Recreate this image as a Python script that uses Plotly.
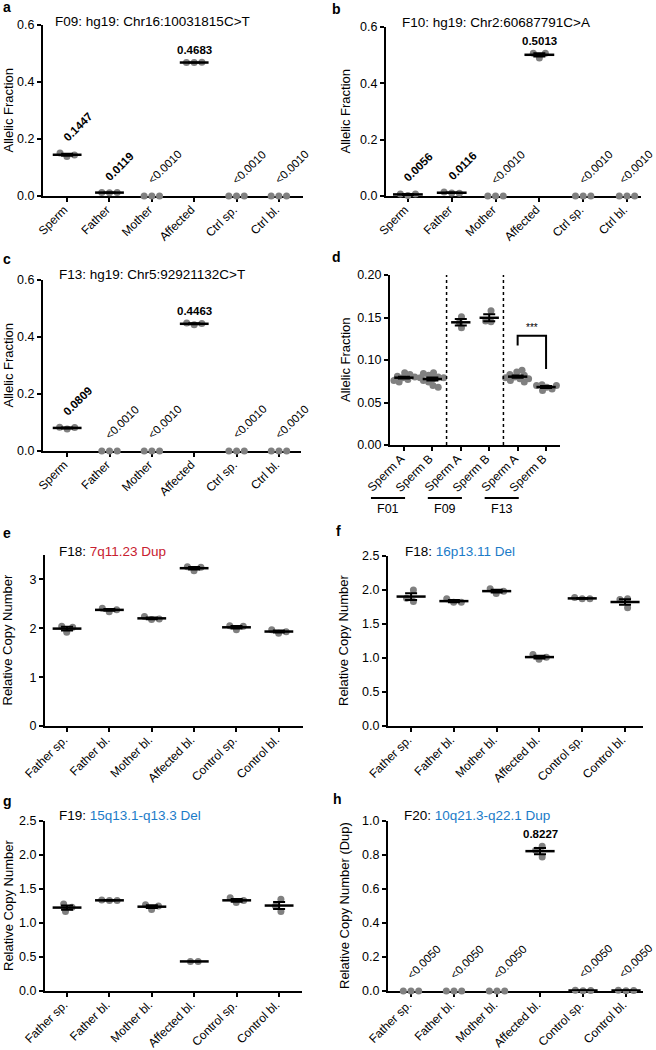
import numpy as np
import plotly.graph_objects as go

W, H = 656, 1050
FONT = "Liberation Sans, Arial, Helvetica, sans-serif"
GRAY = "rgb(128,128,128)"
RED = "#c8202f"
BLUE = "#1b7bc8"

# ---------------- data ----------------
cats_af = ["Sperm", "Father", "Mother", "Affected", "Ctrl sp.", "Ctrl bl."]
cats_cn = ["Father sp.", "Father bl.", "Mother bl.", "Affected bl.", "Control sp.", "Control bl."]
cats_d = ["Sperm A", "Sperm B", "Sperm A", "Sperm B", "Sperm A", "Sperm B"]
groups_d = ["F01", "F09", "F13"]

a_vals = [[0.139, 0.151, 0.144], [0.011, 0.012, 0.0127], [0, 0, 0],
          [0.468, 0.468, 0.4689], [0, 0, 0], [0, 0, 0]]
a_labels = ["0.1447", "0.0119", "<0.0010", "0.4683", "<0.0010", "<0.0010"]

b_vals = [[0.0020, 0.0075, 0.0073], [0.0108, 0.0140, 0.0100], [0, 0, 0],
          [0.490, 0.507, 0.507], [0, 0, 0], [0, 0, 0]]
b_labels = ["0.0056", "0.0116", "<0.0010", "0.5013", "<0.0010", "<0.0010"]

c_vals = [[0.077, 0.083, 0.0827], [0, 0, 0], [0, 0, 0],
          [0.443, 0.449, 0.447], [0, 0, 0], [0, 0, 0]]
c_labels = ["0.0809", "<0.0010", "<0.0010", "0.4463", "<0.0010", "<0.0010"]

d_vals = [
    [0.079, 0.081, 0.077, 0.083, 0.076, 0.080, 0.085, 0.074, 0.078, 0.079],
    [0.078, 0.082, 0.074, 0.085, 0.070, 0.080, 0.076, 0.084, 0.068, 0.079],
    [0.151, 0.138, 0.144],
    [0.158, 0.145, 0.146],
    [0.080, 0.083, 0.078, 0.086, 0.076, 0.082, 0.079, 0.088, 0.074, 0.078],
    [0.068, 0.071, 0.066, 0.070, 0.064, 0.070],
]
d_bracket_x = [4, 4, 5, 5]
d_bracket_y = [0.117, 0.1286, 0.1286, 0.0894]
d_sig = "***"

e_vals = [[1.92, 2.04, 2.02], [2.34, 2.41, 2.38], [2.18, 2.24, 2.19],
          [3.18, 3.26, 3.25], [1.97, 2.05, 2.04], [1.90, 1.97, 1.93]]
f_vals = [[2.00, 1.83, 1.88], [1.82, 1.87, 1.82], [1.95, 2.02, 1.98],
          [0.98, 1.05, 1.01], [1.87, 1.89, 1.87], [1.74, 1.87, 1.86]]
g_vals = [[1.17, 1.28, 1.23], [1.33, 1.34, 1.33], [1.20, 1.27, 1.25],
          [0.435, 0.435], [1.30, 1.37, 1.33], [1.17, 1.35, 1.25]]
h_vals = [[0, 0, 0], [0, 0, 0], [0, 0, 0], [0.852, 0.788, 0.828],
          [0.002, 0.004, 0.003], [0.002, 0.004, 0.003]]
h_labels = ["<0.0050", "<0.0050", "<0.0050", "0.8227", "<0.0050", "<0.0050"]

panels = [
    dict(letter="a", lp=(1, 7), xp=(43, 303), yp=(25, 196), xr=(-0.57, 5.57), yr=(0, 0.6), dt=0.2, fmt=".1f",
         cats=cats_af, vals=a_vals, labels=a_labels, t1="F09: hg19: Chr16:10031815C>T", t2="", tc=None,
         tp=(53, 22), yt="Allelic Fraction", ytx=8, sw=7.7),
    dict(letter="b", lp=(330, 9), xp=(386, 641), yp=(27, 196), xr=(-0.5, 5.32), yr=(0, 0.6), dt=0.2, fmt=".1f",
         cats=cats_af, vals=b_vals, labels=b_labels, t1="F10: hg19: Chr2:60687791C>A", t2="", tc=None,
         tp=(400, 23), yt="Allelic Fraction", ytx=345, sw=7.7),
    dict(letter="c", lp=(1, 259), xp=(43, 301), yp=(280, 451), xr=(-0.57, 5.52), yr=(0, 0.6), dt=0.2, fmt=".1f",
         cats=cats_af, vals=c_vals, labels=c_labels, t1="F13: hg19: Chr5:92921132C>T", t2="", tc=None,
         tp=(57, 275), yt="Allelic Fraction", ytx=8, sw=7.7),
    dict(letter="d", lp=(330, 257), xp=(390, 560), yp=(275, 445), xr=(-0.49, 5.49), yr=(0, 0.2), dt=0.05, fmt=".2f",
         cats=cats_d, vals=d_vals, labels=None, t1="", t2="", tc=None,
         tp=None, yt="Allelic Fraction", ytx=345, sw=5.5),
    dict(letter="e", lp=(1, 533), xp=(45, 303), yp=(555, 726), xr=(-0.52, 5.57), yr=(0, 3.5), dt=1, fmt=".0f",
         cats=cats_cn, vals=e_vals, labels=None, t1="F18: ", t2="7q11.23 Dup", tc=RED,
         tp=(57, 551), yt="Relative Copy Number", ytx=7, sw=7.7),
    dict(letter="f", lp=(334, 531), xp=(388, 643), yp=(556, 726), xr=(-0.54, 5.42), yr=(0, 2.5), dt=0.5, fmt=".1f",
         cats=cats_cn, vals=f_vals, labels=None, t1="F18: ", t2="16p13.11 Del", tc=BLUE,
         tp=(403, 551), yt="Relative Copy Number", ytx=343, sw=7.7),
    dict(letter="g", lp=(1, 801), xp=(45, 302), yp=(821, 991), xr=(-0.52, 5.54), yr=(0, 2.5), dt=0.5, fmt=".1f",
         cats=cats_cn, vals=g_vals, labels=None, t1="F19: ", t2="15q13.1-q13.3 Del", tc=BLUE,
         tp=(57, 815), yt="Relative Copy Number", ytx=8, sw=7.7),
    dict(letter="h", lp=(331, 799), xp=(388, 643), yp=(821, 991), xr=(-0.535, 5.395), yr=(0, 1.0), dt=0.2, fmt=".1f",
         cats=cats_cn, vals=h_vals, labels=h_labels, t1="F20: ", t2="10q21.3-q22.1 Dup", tc=BLUE,
         tp=(402, 815), yt="Relative Copy Number (Dup)", ytx=344, sw=7.7),
]

MS = 7        # marker size px
FS_TICK = 12
FS_YTICK = 12.5
FS_TITLE = 13.5
FS_AX = 13
FS_ANN = 11.5


def swarm(vals, ppu, ppc, dist):
    placed = []
    for v in vals:
        y = v * ppu
        cands = [0.0]
        for px, py in placed:
            dy = abs(py - y)
            if dy < dist:
                dx = np.sqrt(dist * dist - dy * dy)
                cands += [px - dx, px + dx]
        cands = sorted(set(cands), key=lambda c: (round(abs(c), 6), c))
        chosen = 0.0
        for c in cands:
            if all((c - px) ** 2 + (y - py) ** 2 >= dist * dist - 1e-6 for px, py in placed):
                chosen = c
                break
        placed.append((chosen, y))
    xs = np.array([p[0] for p in placed])
    xs = xs - xs.mean()
    return xs / ppc


fig = go.Figure()
annotations = []
shapes = []
layout = {}

for k, p in enumerate(panels):
    sfx = "" if k == 0 else str(k + 1)
    xref, yref = "x" + sfx, "y" + sfx
    x0, x1 = p["xp"]
    y0, y1 = p["yp"]
    ppu = (y1 - y0) / (p["yr"][1] - p["yr"][0])
    ppc = (x1 - x0) / (p["xr"][1] - p["xr"][0])
    n = len(p["cats"])

    axcommon = dict(showline=True, linewidth=2, linecolor="black", ticks="outside", ticklen=4,
                    tickwidth=2, tickcolor="black", showgrid=False, zeroline=False,
                    layer="below traces", fixedrange=True, automargin=False)
    layout["xaxis" + sfx] = dict(domain=[x0 / W, x1 / W], range=list(p["xr"]), anchor=yref,
                                 tickmode="array", tickvals=list(range(n)), ticktext=p["cats"],
                                 tickangle=-45, ticklabelshift=-3, ticklabelstandoff=-4,
                                 tickfont=dict(size=FS_TICK, color="black", family=FONT), **axcommon)
    layout["yaxis" + sfx] = dict(domain=[1 - y1 / H, 1 - y0 / H], range=list(p["yr"]), anchor=xref,
                                 tickmode="linear", tick0=0, dtick=p["dt"], tickformat=p["fmt"],
                                 tickfont=dict(size=FS_YTICK, color="black", family=FONT), **axcommon)

    px_all, py_all = [], []
    mx, my = [], []
    ex, ey, ee = [], [], []
    for i, vals in enumerate(p["vals"]):
        v = np.array(vals, dtype=float)
        offs = swarm(v, ppu, ppc, p["sw"])
        px_all += list(i + offs)
        py_all += list(v)
        m = v.mean()
        sem = v.std(ddof=1) / np.sqrt(len(v))
        if m > 0:
            mx += [i - 0.34, i + 0.34, None]
            my += [m, m, None]
            ex.append(i)
            ey.append(m)
            ee.append(sem)

    # points
    fig.add_trace(go.Scatter(x=px_all, y=py_all, mode="markers", xaxis=xref, yaxis=yref,
                             marker=dict(size=MS, color=GRAY, line=dict(width=0)),
                             cliponaxis=False, hoverinfo="skip"))
    # SEM error bars
    fig.add_trace(go.Scatter(x=ex, y=ey, mode="markers", xaxis=xref, yaxis=yref,
                             marker=dict(size=1, color="rgba(0,0,0,0)"),
                             error_y=dict(type="data", array=ee, color="black", thickness=2, width=6),
                             cliponaxis=False, hoverinfo="skip"))
    # mean lines
    fig.add_trace(go.Scatter(x=mx, y=my, mode="lines", xaxis=xref, yaxis=yref,
                             line=dict(color="black", width=2.5), cliponaxis=False, hoverinfo="skip"))

    # value labels
    if p["labels"]:
        for i, lab in enumerate(p["labels"]):
            v = np.array(p["vals"][i], dtype=float)
            top = v.max()
            rotated = v.mean() < 0.5 * p["yr"][1]
            txt = lab if lab.startswith("<") else "<b>%s</b>" % lab
            xs = 0
            if rotated:
                xs = -9
                tick_px = x0 + (i - p["xr"][0]) * ppc
                est_w = (len(lab) * 0.55 * FS_ANN + 1.2 * FS_ANN) * 0.707
                over = tick_px + xs + est_w - (W - 1)
                if over > 0:
                    xs -= over
            annotations.append(dict(xref=xref, yref=yref, x=i, y=top, text=txt,
                                    textangle=-45 if rotated else 0,
                                    xanchor="left" if rotated else "center", yanchor="bottom",
                                    xshift=xs, yshift=7 if rotated else 4,
                                    showarrow=False, font=dict(size=FS_ANN, color="black", family=FONT)))

    # panel title
    if p["tp"] is not None:
        txt = p["t1"]
        if p["t2"]:
            txt += "<span style='color:%s'>%s</span>" % (p["tc"], p["t2"])
        annotations.append(dict(xref="paper", yref="paper", x=p["tp"][0] / W, y=1 - p["tp"][1] / H,
                                text=txt, xanchor="left", yanchor="middle", showarrow=False,
                                font=dict(size=FS_TITLE, color="black", family=FONT)))
    # panel letter
    annotations.append(dict(xref="paper", yref="paper", x=p["lp"][0] / W, y=1 - p["lp"][1] / H,
                            text="<b>%s</b>" % p["letter"], xanchor="left", yanchor="middle",
                            showarrow=False, font=dict(size=14, color="black", family=FONT)))
    # y-axis title
    annotations.append(dict(xref="paper", yref="paper", x=p["ytx"] / W, y=1 - (y0 + y1) / 2 / H,
                            text=p["yt"], textangle=-90, xanchor="center", yanchor="middle",
                            showarrow=False, font=dict(size=FS_AX, color="black", family=FONT)))

    if p["letter"] == "d":
        for xb in (1.5, 3.5):
            shapes.append(dict(type="line", xref=xref, yref=yref, x0=xb, x1=xb, y0=0, y1=p["yr"][1],
                               line=dict(color="black", width=1.5, dash="dot")))
        fig.add_trace(go.Scatter(x=d_bracket_x, y=d_bracket_y, mode="lines", xaxis=xref, yaxis=yref,
                                 line=dict(color="black", width=2), cliponaxis=False, hoverinfo="skip"))
        annotations.append(dict(xref=xref, yref=yref, x=np.mean(d_bracket_x), y=max(d_bracket_y),
                                text=d_sig, yanchor="bottom", xanchor="center", yshift=1,
                                showarrow=False, font=dict(size=10, color="black", family=FONT)))
        for gi, gname in enumerate(groups_d):
            cpx = x0 + (2 * gi - 0.56 - p["xr"][0]) * ppc   # group label centre in px
            half = 0.6 * ppc
            shapes.append(dict(type="line", xref="paper", yref="paper", x0=(cpx - half) / W,
                               x1=(cpx + half) / W, y0=1 - 498 / H, y1=1 - 498 / H,
                               line=dict(color="black", width=2)))
            annotations.append(dict(xref="paper", yref="paper", x=cpx / W, y=1 - 509 / H, text=gname,
                                    xanchor="center", yanchor="middle", showarrow=False,
                                    font=dict(size=FS_YTICK, color="black", family=FONT)))

fig.update_layout(width=W, height=H, margin=dict(l=0, r=0, t=0, b=0, autoexpand=False),
                  showlegend=False, paper_bgcolor="white", plot_bgcolor="white",
                  font=dict(family=FONT, color="black"),
                  annotations=annotations, shapes=shapes, **layout)

fig.write_html("out.html", config={"displayModeBar": False},
               post_script="document.body.style.margin='0px';document.body.style.overflow='hidden';")
